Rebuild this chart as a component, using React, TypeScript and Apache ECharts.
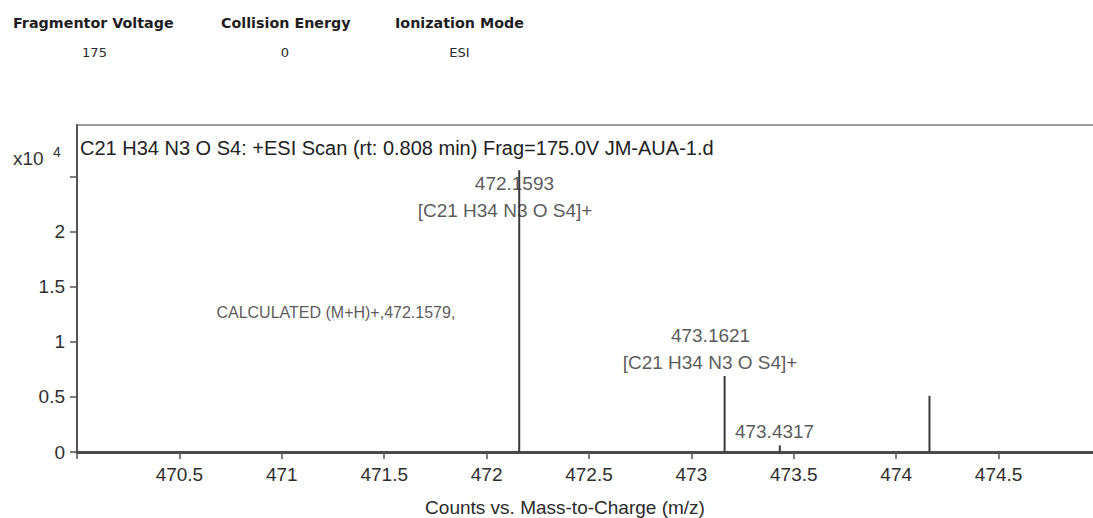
import React, { useEffect, useRef } from "react";
import * as echarts from "echarts";

// Header table
const headerTitles = ["Fragmentor Voltage", "Collision Energy", "Ionization Mode"];
const headerValues = ["175", "0", "ESI"];

// Spectrum title
const spectrumTitle = "C21 H34 N3 O S4: +ESI Scan (rt: 0.808 min) Frag=175.0V JM-AUA-1.d";
const xAxisTitle = "Counts vs. Mass-to-Charge (m/z)";
const yScaleLabel = "x10";
const yScaleExponent = "4";

// Peaks (m/z, counts x10^4)
const peakMz = [472.1593, 473.1621, 473.4317, 474.1625];
const peakIntensity = [2.56, 0.69, 0.06, 0.51];

// Peak annotations (text, anchor m/z, anchor counts x10^4)
const annText = ["472.1593", "[C21 H34 N3 O S4]+", "473.1621", "[C21 H34 N3 O S4]+", "473.4317"];
const annX = [472.136, 472.09, 473.0935, 473.091, 473.406];
const annY = [2.436, 2.19, 1.055, 0.809, 0.186];

const calcText = "CALCULATED (M+H)+,472.1579,";
const calcX = 471.264;
const calcY = 1.268;

// Axis ticks
const xTicks = [470, 470.5, 471, 471.5, 472, 472.5, 473, 473.5, 474, 474.5];
const xLabels = [470.5, 471, 471.5, 472, 472.5, 473, 473.5, 474, 474.5];
const yTicks = [0, 0.5, 1, 1.5, 2, 2.5];
const yLabels = [0, 0.5, 1, 1.5, 2];

const FONT = "'Liberation Sans', Arial, sans-serif";
const HFONT = "'DejaVu Sans', Verdana, sans-serif";

export default function App() {
  const ref = useRef<HTMLDivElement>(null);
  useEffect(() => {
    if (!ref.current) return;
    const chart = echarts.init(ref.current, null, { renderer: "svg" });
    const headerLeft = [13, 221, 395];
    const valueCenter = [94.5, 285, 459.5];
    const graphics: any[] = [];
    headerTitles.forEach((t, i) => {
      graphics.push({
        type: "text",
        left: headerLeft[i],
        top: 16,
        style: { text: t, font: `bold 14.3px ${HFONT}`, fill: "#1e1e1e" },
      });
    });
    headerValues.forEach((t, i) => {
      graphics.push({
        type: "text",
        x: valueCenter[i],
        y: 52,
        style: { text: t, font: `13px ${HFONT}`, fill: "#2a2a2a", align: "center", verticalAlign: "middle" },
      });
    });
    graphics.push({
      type: "text",
      x: 80,
      y: 148,
      style: { text: spectrumTitle, font: `20px ${FONT}`, fill: "#222", verticalAlign: "middle" },
      z: 10,
    });
    graphics.push({
      type: "text",
      x: 13,
      y: 158,
      style: { text: yScaleLabel, font: `19px ${FONT}`, fill: "#333", verticalAlign: "middle" },
    });
    graphics.push({
      type: "text",
      x: 53,
      y: 152,
      style: { text: yScaleExponent, font: `14px ${FONT}`, fill: "#333", verticalAlign: "middle" },
    });
    graphics.push({
      type: "text",
      x: 565,
      y: 507,
      style: { text: xAxisTitle, font: `19px ${FONT}`, fill: "#2a2a2a", align: "center", verticalAlign: "middle" },
    });

    const annData = annText.map((t, i) => ({ value: [annX[i], annY[i]], name: t, fs: 19 }));
    annData.push({ value: [calcX, calcY], name: calcText, fs: 16 });

    chart.setOption({
      animation: false,
      backgroundColor: "#fff",
      grid: {
        left: 77,
        right: -8,
        top: 125,
        bottom: 66,
        show: true,
        borderColor: "#9a9a9a",
        borderWidth: 2,
        backgroundColor: "#fff",
        outerBoundsMode: "none",
        containLabel: false,
      },
      xAxis: {
        type: "value",
        min: 470,
        max: 475,
        splitLine: { show: false },
        axisLine: { show: true, lineStyle: { color: "#4a4a4a", width: 3 } },
        axisTick: { show: true, length: 7, lineStyle: { color: "#555", width: 1.5 }, customValues: xTicks },
        axisLabel: {
          customValues: xLabels,
          fontSize: 19,
          fontFamily: FONT,
          color: "#2e2e2e",
          margin: 13,
          formatter: (v: number) => String(v),
        },
      },
      yAxis: {
        type: "value",
        min: 0,
        max: 2.97,
        splitLine: { show: false },
        axisLine: { show: true, lineStyle: { color: "#555", width: 2 } },
        axisTick: { show: true, length: 7, lineStyle: { color: "#555", width: 1.5 }, customValues: yTicks },
        axisLabel: {
          customValues: yLabels,
          fontSize: 19,
          fontFamily: FONT,
          color: "#2e2e2e",
          margin: 12,
          formatter: (v: number) => String(v),
        },
      },
      series: [
        {
          type: "custom",
          data: peakMz.map((m, i) => [m, peakIntensity[i]]),
          renderItem: (_p: any, api: any) => {
            const x = api.value(0);
            const y = api.value(1);
            const p0 = api.coord([x, 0]);
            const p1 = api.coord([x, y]);
            return {
              type: "line",
              shape: { x1: p0[0], y1: p0[1], x2: p1[0], y2: p1[1] },
              style: { stroke: "#3a3a3a", lineWidth: 2 },
            };
          },
          z: 2,
        },
        {
          type: "scatter",
          symbolSize: 0,
          data: annData.map((d) => ({
            value: d.value,
            name: d.name,
            label: {
              show: true,
              position: "inside",
              formatter: d.name,
              fontSize: d.fs,
              fontFamily: FONT,
              color: "#2e2e2e",
            },
          })),
          z: 5,
        },
      ],
      graphic: graphics,
    });
    return () => chart.dispose();
  }, []);
  return (
    <div
      ref={ref}
      style={{ position: "fixed", left: 0, top: 0, width: 1093, height: 518, background: "#fff" }}
    />
  );
}
